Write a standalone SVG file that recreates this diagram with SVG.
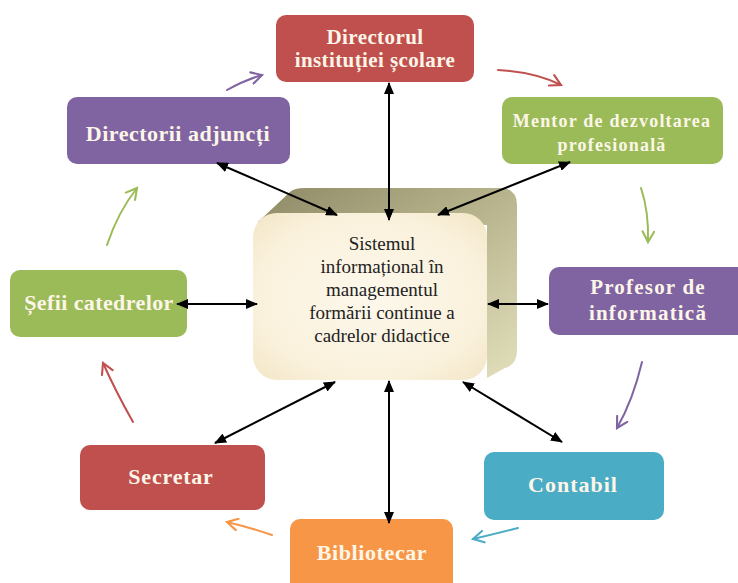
<svg xmlns="http://www.w3.org/2000/svg" width="738" height="583" viewBox="0 0 738 583">
<defs>
<style>
.node text{font-family:"Liberation Serif","Times New Roman",serif;font-weight:bold;fill:#fdf6e8;text-anchor:middle}
.ctext{font-family:"Liberation Serif","Times New Roman",serif;font-size:19px;fill:#222;text-anchor:middle}
.blk{stroke:#000;stroke-width:2;fill:none;marker-start:url(#ah);marker-end:url(#ah)}
.cyc{stroke-width:2;fill:none;stroke-linecap:round}
</style>
<marker id="ah" viewBox="0 0 12 10" refX="11" refY="5" markerWidth="12" markerHeight="10" markerUnits="userSpaceOnUse" orient="auto-start-reverse"><path d="M0,0 L12,5 L0,10 Z" fill="#000"/></marker>
<marker id="mPur" viewBox="0 0 12 12" refX="10" refY="6" markerWidth="14" markerHeight="14" markerUnits="userSpaceOnUse" orient="auto"><path d="M1,1 L10,6 L1,11" fill="none" stroke="#8064a2" stroke-width="1.8" stroke-linecap="round"/></marker>
<marker id="mRed" viewBox="0 0 12 12" refX="10" refY="6" markerWidth="14" markerHeight="14" markerUnits="userSpaceOnUse" orient="auto"><path d="M1,1 L10,6 L1,11" fill="none" stroke="#c0504d" stroke-width="1.8" stroke-linecap="round"/></marker>
<marker id="mGrn" viewBox="0 0 12 12" refX="10" refY="6" markerWidth="14" markerHeight="14" markerUnits="userSpaceOnUse" orient="auto"><path d="M1,1 L10,6 L1,11" fill="none" stroke="#9bbb59" stroke-width="1.8" stroke-linecap="round"/></marker>
<marker id="mBlu" viewBox="0 0 12 12" refX="10" refY="6" markerWidth="14" markerHeight="14" markerUnits="userSpaceOnUse" orient="auto"><path d="M1,1 L10,6 L1,11" fill="none" stroke="#4bacc6" stroke-width="1.8" stroke-linecap="round"/></marker>
<marker id="mOrg" viewBox="0 0 12 12" refX="10" refY="6" markerWidth="14" markerHeight="14" markerUnits="userSpaceOnUse" orient="auto"><path d="M1,1 L10,6 L1,11" fill="none" stroke="#f79646" stroke-width="1.8" stroke-linecap="round"/></marker>
<linearGradient id="ext" x1="0" y1="0" x2="1" y2="1">
<stop offset="0" stop-color="#8e8a66"/><stop offset="0.5" stop-color="#b8b58e"/><stop offset="1" stop-color="#e2e0bc"/>
</linearGradient>
<radialGradient id="face" cx="0.5" cy="0.5" r="0.7">
<stop offset="0" stop-color="#fdf8ec"/><stop offset="0.7" stop-color="#faf1dc"/><stop offset="1" stop-color="#f3e6c6"/>
</radialGradient>
</defs>
<rect width="738" height="583" fill="#fff"/>

<g id="center">
<path d="M258,222 L290,192 Q294,188 305,188 L500,188 Q517,188 517,205 L517,350 Q517,365 505,368 L487,378 L487,225 Z" fill="url(#ext)"/>
<rect x="253" y="213" width="234" height="167" rx="24" fill="url(#face)"/>
<text class="ctext" x="382" y="250">Sistemul</text>
<text class="ctext" x="382" y="273">informațional în</text>
<text class="ctext" x="382" y="296">managementul</text>
<text class="ctext" x="382" y="319">formării continue a</text>
<text class="ctext" x="382" y="342">cadrelor didactice</text>
</g>

<g id="n-director" class="node">
<rect x="276" y="15" width="198" height="67" rx="10" fill="#c0504d"/>
<text x="375" y="44" font-size="21" letter-spacing="0.4">Directorul</text>
<text x="375" y="67" font-size="21" letter-spacing="0.4">instituției școlare</text>
</g>
<g id="n-adjuncti" class="node">
<rect x="67" y="97" width="223" height="67" rx="10" fill="#8064a2"/>
<text x="178" y="141" font-size="22" letter-spacing="0.5">Directorii adjuncți</text>
</g>
<g id="n-mentor" class="node">
<rect x="502" y="97" width="221" height="67" rx="10" fill="#9bbb59"/>
<text x="612" y="127" font-size="18" letter-spacing="1.2">Mentor de dezvoltarea</text>
<text x="612" y="151" font-size="18" letter-spacing="1.2">profesională</text>
</g>
<g id="n-profesor" class="node">
<rect x="549" y="267" width="200" height="68" rx="10" fill="#8064a2"/>
<text x="648" y="294" font-size="21" letter-spacing="1.2">Profesor de</text>
<text x="648" y="320" font-size="21" letter-spacing="1.2">informatică</text>
</g>
<g id="n-sefii" class="node">
<rect x="10" y="270" width="177" height="67" rx="10" fill="#9bbb59"/>
<text x="99" y="310" font-size="22" letter-spacing="0.4">Șefii catedrelor</text>
</g>
<g id="n-secretar" class="node">
<rect x="80" y="445" width="185" height="65" rx="10" fill="#c0504d"/>
<text x="171" y="484" font-size="22" letter-spacing="0.8">Secretar</text>
</g>
<g id="n-contabil" class="node">
<rect x="484" y="452" width="180" height="68" rx="10" fill="#4bacc6"/>
<text x="573" y="492" font-size="22" letter-spacing="1">Contabil</text>
</g>
<g id="n-bibliotecar" class="node">
<rect x="290" y="519" width="163" height="75" rx="10" fill="#f79646"/>
<text x="372" y="560" font-size="22" letter-spacing="0.6">Bibliotecar</text>
</g>

<g id="connectors">
<line class="blk" x1="389" y1="83" x2="389" y2="220"/>
<line class="blk" x1="217" y1="163" x2="337" y2="215"/>
<line class="blk" x1="570" y1="162" x2="438" y2="215"/>
<line class="blk" x1="177" y1="304" x2="257" y2="304"/>
<line class="blk" x1="488" y1="304" x2="548" y2="304"/>
<line class="blk" x1="215" y1="443" x2="335" y2="382"/>
<line class="blk" x1="389" y1="381" x2="389" y2="523"/>
<line class="blk" x1="463" y1="382" x2="562" y2="442"/>

<path class="cyc" stroke="#8064a2" marker-end="url(#mPur)" d="M227,90 Q245,80 262,75"/>
<path class="cyc" stroke="#c0504d" marker-end="url(#mRed)" d="M498,70 Q535,72 561,85"/>
<path class="cyc" stroke="#9bbb59" marker-end="url(#mGrn)" d="M641,188 Q649,212 648,242"/>
<path class="cyc" stroke="#8064a2" marker-end="url(#mPur)" d="M642,362 Q633,400 617,428"/>
<path class="cyc" stroke="#4bacc6" marker-end="url(#mBlu)" d="M518,528 Q495,534 473,539"/>
<path class="cyc" stroke="#f79646" marker-end="url(#mOrg)" d="M272,535 Q248,527 227,522"/>
<path class="cyc" stroke="#c0504d" marker-end="url(#mRed)" d="M133,422 Q116,392 103,363"/>
<path class="cyc" stroke="#9bbb59" marker-end="url(#mGrn)" d="M107,245 Q118,212 137,188"/>
</g>
</svg>
